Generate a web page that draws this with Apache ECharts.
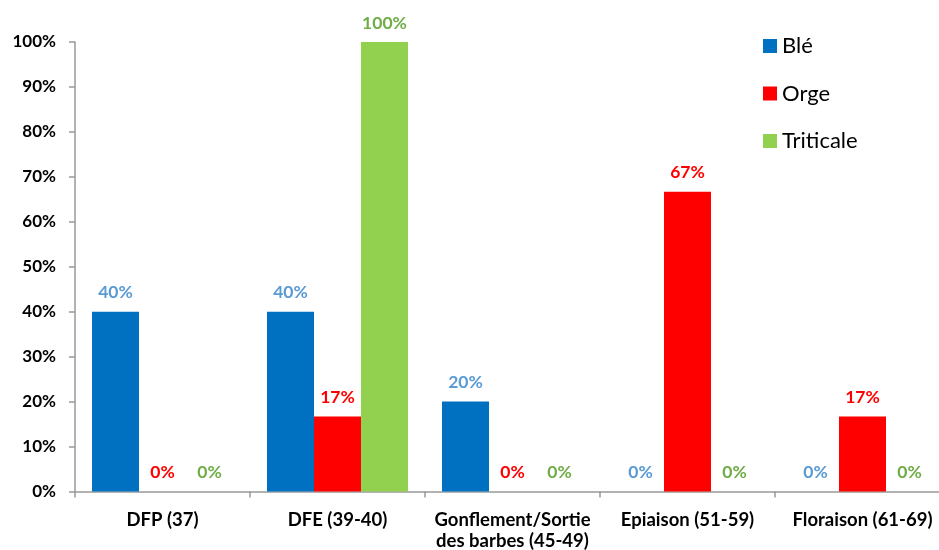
<!DOCTYPE html>
<html><head><meta charset="utf-8">
<script src="https://cdn.jsdelivr.net/npm/echarts@6/dist/echarts.min.js"></script>
<style>html,body{margin:0;padding:0;background:#fff;overflow:hidden}#c{width:939px;height:550px}</style>
</head><body><div id="c"></div>
<script>
const categories = ['DFP (37)', 'DFE (39-40)', 'Gonflement/Sortie\ndes barbes (45-49)', 'Epiaison (51-59)', 'Floraison (61-69)'];
const ble = [40, 40, 20, 0, 0];
const orge = [0, 16.67, 0, 66.67, 16.67];
const triticale = [0, 100, 0, 0, 0];
const yTicks = [0, 10, 20, 30, 40, 50, 60, 70, 80, 90, 100];

const font = 'Lato, "Open Sans", sans-serif';
function mk(name, data, color, labelColor) {
  return {
    name, type: 'bar', data, barWidth: 47, barGap: '0%',
    itemStyle: { color },
    label: { show: true, position: 'top', distance: 10, color: labelColor, fontWeight: 'bold', fontSize: 17.5, fontFamily: font,
      formatter: p => Math.round(p.value) + '%' }
  };
}
const chart = echarts.init(document.getElementById('c'));
chart.setOption({
  animation: false,
  textStyle: { fontFamily: font },
  legend: {
    orient: 'vertical', left: 758, top: 30, itemWidth: 14, itemHeight: 14, itemGap: 25.5,
    icon: 'rect', textStyle: { fontSize: 22, color: '#000', fontFamily: font },
    data: ['Blé', 'Orge', 'Triticale']
  },
  grid: { left: 75, width: 875, top: 42, height: 449.5, outerBoundsMode: 'none', containLabel: false },
  xAxis: {
    type: 'category', data: categories,
    axisLine: { lineStyle: { color: '#999', width: 1.5 } },
    axisTick: { show: true, length: 6, lineStyle: { color: '#999', width: 1.5 } },
    axisLabel: { color: '#000', fontWeight: 'bold', fontSize: 18.5, fontFamily: font, margin: 18, lineHeight: 21, interval: 0 }
  },
  yAxis: {
    type: 'value', min: 0, max: 100, interval: 10,
    axisLine: { show: true, lineStyle: { color: '#999', width: 1.5 } },
    axisTick: { show: true, length: 6, lineStyle: { color: '#999', width: 1.5 } },
    splitLine: { show: false },
    axisLabel: { color: '#000', fontWeight: 'bold', fontSize: 17, fontFamily: font, margin: 19,
      formatter: v => yTicks.includes(v) ? v + '%' : '' }
  },
  series: [
    mk('Blé', ble, '#0070C0', '#5B9BD5'),
    mk('Orge', orge, '#FF0000', '#FF0000'),
    mk('Triticale', triticale, '#92D050', '#70AD47')
  ]
});
</script></body></html>
